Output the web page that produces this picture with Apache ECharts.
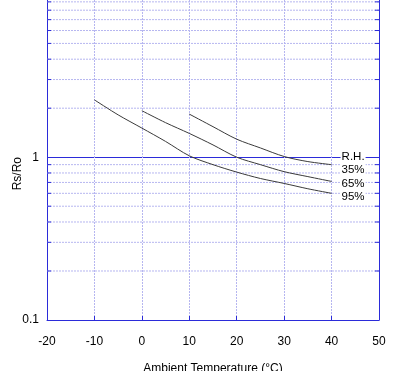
<!DOCTYPE html>
<html><head><meta charset="utf-8">
<script src="https://cdn.jsdelivr.net/npm/echarts@6/dist/echarts.min.js"></script>
<style>html,body{margin:0;padding:0;background:#fff}#c{width:404px;height:371px}</style>
</head><body><div id="c"></div>
<script>
var xTicks = [-20, -10, 0, 10, 20, 30, 40, 50];
var yTickLabels = {0.1: '0.1', 1: '1'};
var yMin = 0.1, yMaxVisible = 9.24;
var minorGridValues = [0.2,0.3,0.4,0.5,0.6,0.7,0.8,0.9,2,3,4,5,6,7,8,9];
var rh35Temp = [10, 15, 20, 25, 30, 35, 40];
var rh35Val  = [1.84, 1.54, 1.29, 1.14, 1.01, 0.94, 0.90];
var rh65Temp = [0, 5, 10, 15, 20, 25, 30, 35, 40];
var rh65Val  = [1.93, 1.63, 1.40, 1.19, 1.00, 0.90, 0.815, 0.76, 0.71];
var rh95Temp = [-10, -5, 0, 5, 10, 15, 20, 25, 30, 35, 40];
var rh95Val  = [2.25, 1.82, 1.51, 1.25, 1.02, 0.90, 0.81, 0.74, 0.69, 0.64, 0.60];
var labels = {rh: 'R.H.', s35: '35%', s65: '65%', s95: '95%'};

function pairs(t, v){ return t.map(function(x,i){ return [x, v[i]]; }); }

var AX = '#2b2bd9', GR = '#b6b6f0', LINE = '#3a3a3a';
var font = 'Arial, "Liberation Sans", sans-serif';

var chart = echarts.init(document.getElementById('c'), null, {renderer:'canvas'});
var lblStyle = {fontFamily: font, fontSize: 11.5, color: '#000', backgroundColor: '#fff', padding: [0, 1, 0, 1], lineHeight: 13};
chart.setOption({
  animation: false,
  grid: {left: 47, right: 25, top: 0, bottom: 51, show: false, containLabel: false, outerBoundsMode: 'none'},
  xAxis: {
    type: 'value', min: xTicks[0], max: xTicks[xTicks.length-1], interval: 10,
    axisLine: {show: true, onZero: false, lineStyle: {color: AX, width: 1}},
    axisTick: {show: true, inside: true, length: 4, lineStyle: {color: AX}},
    axisLabel: {margin: 16, color: '#000', fontFamily: font, fontSize: 12},
    splitLine: {show: true, showMinLine: false, showMaxLine: false, lineStyle: {color: GR, type: [2, 1], width: 1}},
    name: 'Ambient Temperature (°C)', nameLocation: 'middle', nameGap: 43,
    nameTextStyle: {color: '#000', fontFamily: font, fontSize: 12}
  },
  yAxis: [{
    type: 'log', logBase: 10, min: yMin, max: yMaxVisible,
    axisLine: {show: true, onZero: false, lineStyle: {color: AX}},
    axisTick: {show: false},
    axisLabel: {margin: 8, color: '#000', fontFamily: font, fontSize: 12, showMaxLabel: false,
      formatter: function(v){ var k = Math.round(v*100)/100; return yTickLabels[k] || ''; }},
    splitLine: {show: true, showMinLine: false, showMaxLine: false, lineStyle: {color: AX, width: 1}}
  }, {
    type: 'log', logBase: 10, min: yMin, max: yMaxVisible, position: 'right',
    axisLine: {show: true, onZero: false, lineStyle: {color: AX}},
    axisTick: {show: false}, axisLabel: {show: false}, splitLine: {show: false}
  }],
  graphic: [{type: 'text', left: 12, top: 157, rotation: Math.PI/2,
    style: {text: 'Rs/Ro', font: '12px ' + font, fill: '#000'}}],
  series: [
    {type: 'custom', silent: true, z: 1,
     data: minorGridValues.map(function(v){ return [v]; }),
     renderItem: function(params, api){
       var v = api.value(0);
       var pL = api.coord([xTicks[0], v]), pR = api.coord([xTicks[xTicks.length-1], v]);
       return {type: 'group', children: [
         {type: 'line', shape: {x1: pL[0], y1: pL[1], x2: pR[0], y2: pR[1]},
          style: {stroke: GR, lineWidth: 1, lineDash: [2, 1]}},
         {type: 'line', shape: {x1: pL[0], y1: pL[1], x2: pL[0] + 4, y2: pL[1]},
          style: {stroke: AX, lineWidth: 1}},
         {type: 'line', shape: {x1: pR[0] - 4, y1: pR[1], x2: pR[0], y2: pR[1]},
          style: {stroke: AX, lineWidth: 1}}
       ]};
     }},
    {type: 'line', name: '35%', data: pairs(rh35Temp, rh35Val), symbol: 'none', smooth: 0.3, z: 3,
     lineStyle: {color: LINE, width: 1},
     endLabel: {show: true, distance: 9, offset: [0, -1], align: 'left', verticalAlign: 'middle',
       formatter: labels.rh + '\n' + labels.s35, fontFamily: font, fontSize: 11.5, color: '#000',
       backgroundColor: '#fff', padding: [0, 1, 0, 1], lineHeight: 13}},
    {type: 'line', name: '65%', data: pairs(rh65Temp, rh65Val), symbol: 'none', smooth: 0.3, z: 3,
     lineStyle: {color: LINE, width: 1},
     endLabel: Object.assign({show: true, distance: 9, offset: [0, 2], formatter: labels.s65}, lblStyle)},
    {type: 'line', name: '95%', data: pairs(rh95Temp, rh95Val), symbol: 'none', smooth: 0.3, z: 3,
     lineStyle: {color: LINE, width: 1},
     endLabel: Object.assign({show: true, distance: 9, offset: [0, 3.5], formatter: labels.s95}, lblStyle)}
  ]
});
</script></body></html>
